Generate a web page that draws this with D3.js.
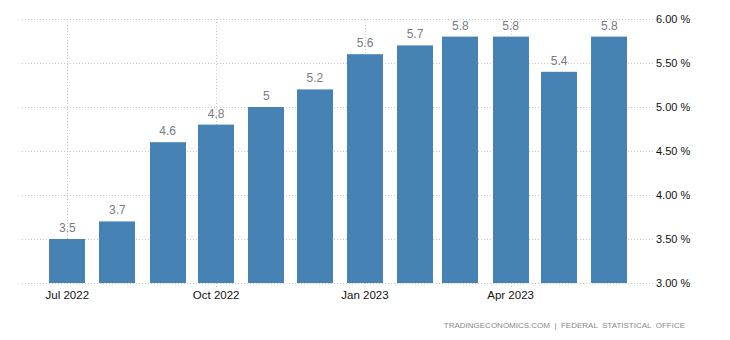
<!DOCTYPE html>
<html><head><meta charset="utf-8">
<script src="https://cdn.jsdelivr.net/npm/d3@7"></script>
<style>body{margin:0;background:#fff;} svg{display:block;font-family:"Liberation Sans",Arial,sans-serif;}</style>
</head><body><svg id="c" width="730" height="340"></svg>
<script>
const months = ["2022-07-01","2022-08-01","2022-09-01","2022-10-01","2022-11-01","2022-12-01","2023-01-01","2023-02-01","2023-03-01","2023-04-01","2023-05-01","2023-06-01"];
const values = [3.5,3.7,4.6,4.8,5.0,5.2,5.6,5.7,5.8,5.8,5.4,5.8];
const valueLabels = ["3.5","3.7","4.6","4.8","5","5.2","5.6","5.7","5.8","5.8","5.4","5.8"];
const xTicks = ["2022-07-01","2022-10-01","2023-01-01","2023-04-01"];
const xTickLabels = ["Jul 2022","Oct 2022","Jan 2023","Apr 2023"];
const yTicks = [3.0,3.5,4.0,4.5,5.0,5.5,6.0];
const footer = "TRADINGECONOMICS.COM  |  FEDERAL  STATISTICAL  OFFICE";

const parse = d3.utcParse("%Y-%m-%d");
const svg = d3.select("#c");
const L = 22, R = 653, T = 19, B = 283;
const x = d3.scaleUtc().domain([parse("2022-06-03"), parse("2023-06-28")]).range([L, R]);
const y = d3.scaleLinear().domain([3, 6]).range([B, T]);
const grid = "#c8c8c8";

// horizontal gridlines
svg.append("g").selectAll("line").data(yTicks).join("line")
  .attr("x1", L).attr("x2", R).attr("y1", d => y(d) + 0.5).attr("y2", d => y(d) + 0.5)
  .attr("stroke", grid).attr("stroke-dasharray", "1,2");
// vertical gridlines
svg.append("g").selectAll("line").data(xTicks).join("line")
  .attr("x1", d => Math.round(x(parse(d))) + 0.5).attr("x2", d => Math.round(x(parse(d))) + 0.5)
  .attr("y1", T).attr("y2", B + 5)
  .attr("stroke", grid).attr("stroke-dasharray", "1,2");

// bars
const bw = 36;
svg.append("g").selectAll("rect").data(values).join("rect")
  .attr("x", (d, i) => Math.round(x(parse(months[i])) - bw / 2))
  .attr("width", bw)
  .attr("y", d => y(d))
  .attr("height", d => B - y(d))
  .attr("fill", "#4682b4");

// value labels
svg.append("g").selectAll("text").data(values).join("text")
  .attr("x", (d, i) => x(parse(months[i])))
  .attr("y", d => y(d) - 7)
  .attr("text-anchor", "middle")
  .attr("font-size", 12).attr("fill", "#7a7a85")
  .text((d, i) => valueLabels[i]);

// x axis labels
svg.append("g").selectAll("text").data(xTicks).join("text")
  .attr("x", d => x(parse(d)))
  .attr("y", 299)
  .attr("text-anchor", "middle")
  .attr("font-size", 11.5).attr("fill", "#111")
  .text((d, i) => xTickLabels[i]);

// y axis labels
svg.append("g").selectAll("text").data(yTicks).join("text")
  .attr("x", 656)
  .attr("y", d => y(d) + 4)
  .attr("font-size", 11).attr("fill", "#111")
  .text(d => d3.format(".2f")(d) + " %");

// footer
svg.append("text").attr("x", 685).attr("y", 328).attr("text-anchor", "end")
  .attr("font-size", 8).attr("fill", "#888").attr("xml:space", "preserve")
  .style("white-space", "pre")
  .text(footer);
</script></body></html>
